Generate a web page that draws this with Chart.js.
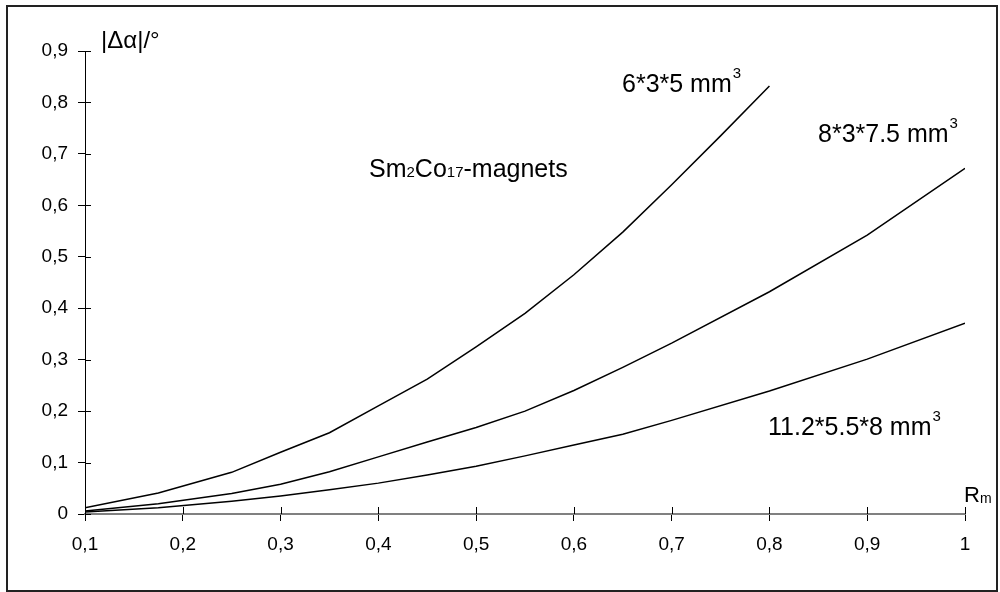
<!DOCTYPE html>
<html>
<head>
<meta charset="utf-8">
<script src="https://cdn.jsdelivr.net/npm/chart.js@4.4.0/dist/chart.umd.min.js"></script>
<style>
  html, body { margin: 0; padding: 0; background: #fff; }
  #wrap { position: relative; width: 1000px; height: 592px; }
</style>
</head>
<body>
<div id="wrap"><canvas id="chart"></canvas></div>
<script>
// curve data (x = Rm, y = |delta alpha| in degrees)
const xSmall = [0.1, 0.175, 0.25, 0.3, 0.35, 0.4, 0.45, 0.5, 0.55, 0.6, 0.65, 0.7, 0.75, 0.8];
const ySmall = [0.012, 0.041, 0.081, 0.12, 0.158, 0.21, 0.262, 0.325, 0.39, 0.465, 0.548, 0.64, 0.735, 0.832];

const xMid = [0.1, 0.175, 0.25, 0.3, 0.35, 0.4, 0.45, 0.5, 0.55, 0.6, 0.65, 0.7, 0.8, 0.9, 1.0];
const yMid = [0.006, 0.02, 0.04, 0.058, 0.082, 0.111, 0.14, 0.168, 0.2, 0.24, 0.285, 0.332, 0.432, 0.542, 0.672];

const xLarge = [0.1, 0.175, 0.25, 0.3, 0.35, 0.4, 0.45, 0.5, 0.55, 0.6, 0.65, 0.7, 0.8, 0.9, 1.0];
const yLarge = [0.004, 0.012, 0.025, 0.035, 0.047, 0.06, 0.076, 0.093, 0.113, 0.134, 0.155, 0.182, 0.239, 0.301, 0.371];

const seriesNames = ["6*3*5 mm", "8*3*7.5 mm", "11.2*5.5*8 mm"];

const toPoints = (xs, ys) => xs.map((x, i) => ({ x: x, y: ys[i] }));
const fmt = (v) => String(Math.round(v * 10) / 10).replace(".", ",");
const FAMILY = "'Liberation Sans', Arial, sans-serif";

// labels, frame and the inner half of the tick marks
const decor = {
  id: "decor",
  afterDraw(chart) {
    const ctx = chart.ctx;
    const xs = chart.scales.x;
    const ys = chart.scales.y;
    const left = chart.chartArea.left;
    const bottom = chart.chartArea.bottom;
    ctx.save();

    // inner parts of the crossing ticks
    ctx.strokeStyle = "#000";
    ctx.lineWidth = 1;
    ctx.beginPath();
    ys.ticks.forEach((t) => {
      const y = Math.round(ys.getPixelForValue(t.value)) + 0.5;
      ctx.moveTo(left, y);
      ctx.lineTo(left + 6, y);
    });
    xs.ticks.forEach((t) => {
      const x = Math.round(xs.getPixelForValue(t.value)) + 0.5;
      ctx.moveTo(x, bottom);
      ctx.lineTo(x, bottom - 7);
    });
    ctx.stroke();

    ctx.fillStyle = "#000";
    ctx.textBaseline = "alphabetic";
    ctx.textAlign = "left";

    // axis titles
    ctx.font = "24px " + FAMILY;
    ctx.fillText("|\u0394\u03b1|/\u00b0", 101, 48);
    ctx.font = "22px " + FAMILY;
    ctx.fillText("R", 964, 502);
    ctx.font = "14px " + FAMILY;
    ctx.fillText("m", 980, 503);

    // curve labels with superscript 3
    const big = "25px " + FAMILY;
    const sup = "15px " + FAMILY;
    const labelPos = [[622, 92], [818, 142], [768, 435]];
    seriesNames.forEach((name, i) => {
      const [lx, ly] = labelPos[i];
      ctx.font = big;
      ctx.fillText(name, lx, ly);
      const w = ctx.measureText(name).width;
      ctx.font = sup;
      ctx.fillText("3", lx + w + 1, ly - 14);
    });

    // Sm2Co17-magnets
    const parts = [["Sm", big], ["2", sup], ["Co", big], ["17", sup], ["-magnets", big]];
    let px = 369;
    parts.forEach(([s, f]) => {
      ctx.font = f;
      ctx.fillText(s, px, 177);
      px += ctx.measureText(s).width;
    });

    // outer frame
    ctx.strokeStyle = "#222";
    ctx.lineWidth = 2;
    ctx.strokeRect(7, 6, 990, 585);
    ctx.restore();
  },
};

const lineStyle = {
  borderColor: "#000",
  borderWidth: 1.5,
  pointRadius: 0,
  tension: 0,
  fill: false,
};

new Chart(document.getElementById("chart").getContext("2d"), {
  type: "line",
  data: {
    datasets: [
      { label: seriesNames[0], data: toPoints(xSmall, ySmall), ...lineStyle },
      { label: seriesNames[1], data: toPoints(xMid, yMid), ...lineStyle },
      { label: seriesNames[2], data: toPoints(xLarge, yLarge), ...lineStyle },
    ],
  },
  options: {
    responsive: true,
    maintainAspectRatio: false,
    animation: false,
    layout: { padding: { top: 51, right: 35, left: 0, bottom: 0 } },
    plugins: { legend: { display: false }, tooltip: { enabled: false } },
    scales: {
      x: {
        type: "linear",
        min: 0.1,
        max: 1,
        afterFit: (s) => { s.height = 78; },
        border: { color: "#808080", width: 2 },
        grid: { drawOnChartArea: false, color: "#000", tickLength: 7, tickWidth: 1 },
        ticks: {
          stepSize: 0.1,
          color: "#000",
          padding: 12,
          maxRotation: 0,
          font: { family: FAMILY, size: 19 },
          callback: (v) => fmt(v),
        },
      },
      y: {
        min: 0,
        max: 0.9,
        afterFit: (s) => { s.width = 85; },
        border: { color: "#000", width: 1 },
        grid: { drawOnChartArea: false, color: "#000", tickLength: 7, tickWidth: 1 },
        ticks: {
          stepSize: 0.1,
          color: "#000",
          padding: 10,
          font: { family: FAMILY, size: 19 },
          callback: (v) => fmt(v),
        },
      },
    },
  },
  plugins: [decor],
});
</script>
</body>
</html>
